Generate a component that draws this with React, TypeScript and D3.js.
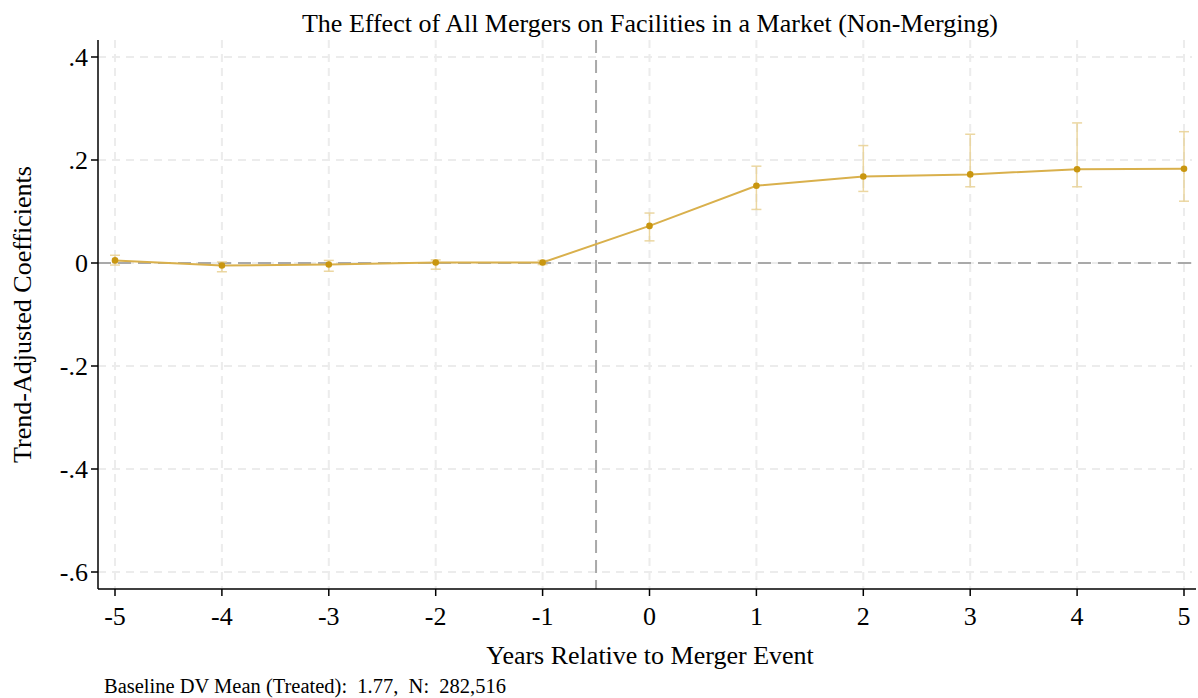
import React from 'react';
import * as d3 from 'd3';

const years = [-5, -4, -3, -2, -1, 0, 1, 2, 3, 4, 5];
const coefs = [0.005, -0.005, -0.003, 0.001, 0.001, 0.072, 0.150, 0.168, 0.172, 0.182, 0.183];
const ciLow = [-0.004, -0.017, -0.016, -0.012, -0.003, 0.043, 0.104, 0.139, 0.148, 0.148, 0.120];
const ciHigh = [0.015, 0.002, 0.005, 0.006, 0.005, 0.097, 0.188, 0.228, 0.250, 0.272, 0.255];
const yTicks = [0.4, 0.2, 0, -0.2, -0.4, -0.6];
const yTickLabels = ['.4', '.2', '0', '-.2', '-.4', '-.6'];

const W = 1198;
const H = 698;
const left = 98;
const right = 1196;
const top = 40;
const bottom = 589;
const font = '"Liberation Serif", "Times New Roman", serif';

export default function App() {
  const x = d3.scaleLinear().domain([-5, 5]).range([115, 1184]);
  const y = d3.scaleLinear().domain([-0.633, 0.433]).range([bottom, top]);

  const pts = years.map((yr, i) => ({ yr, b: coefs[i], lo: ciLow[i], hi: ciHigh[i] }));
  const line = d3
    .line<{ yr: number; b: number }>()
    .x(d => x(d.yr))
    .y(d => y(d.b));

  return (
    <svg width={W} height={H} style={{ position: 'absolute', left: 0, top: 0, background: '#fff' }}>
      {/* grid */}
      {years.map(t => (
        <line key={'gx' + t} x1={x(t)} x2={x(t)} y1={top} y2={bottom}
          stroke="#ececec" strokeWidth={2} strokeDasharray="8,6" />
      ))}
      {yTicks.map(t => (
        <line key={'gy' + t} x1={left} x2={right - 4} y1={y(t)} y2={y(t)}
          stroke="#ececec" strokeWidth={2} strokeDasharray="8,6" />
      ))}

      {/* reference lines */}
      <line x1={left} x2={right - 4} y1={y(0)} y2={y(0)} stroke="#a9a9a9" strokeWidth={2} strokeDasharray="13,7" />
      <line x1={x(-0.5)} x2={x(-0.5)} y1={top} y2={bottom} stroke="#a9a9a9" strokeWidth={2} strokeDasharray="13,7" />

      {/* error bars */}
      {pts.map(d => (
        <g key={'ci' + d.yr} stroke="#e9d192" strokeWidth={1.5} opacity={0.85}>
          <line x1={x(d.yr)} x2={x(d.yr)} y1={y(d.lo)} y2={y(d.hi)} />
          <line x1={x(d.yr) - 5} x2={x(d.yr) + 5} y1={y(d.lo)} y2={y(d.lo)} />
          <line x1={x(d.yr) - 5} x2={x(d.yr) + 5} y1={y(d.hi)} y2={y(d.hi)} />
        </g>
      ))}

      {/* coefficient line */}
      <path d={line(pts) || ''} fill="none" stroke="#d9b04c" strokeWidth={2} />
      {pts.map(d => (
        <circle key={'pt' + d.yr} cx={x(d.yr)} cy={y(d.b)} r={3.3} fill="#c9960f" />
      ))}

      {/* axes */}
      <line x1={left} x2={left} y1={top} y2={bottom} stroke="#000" strokeWidth={1.5} />
      <line x1={left} x2={right} y1={bottom} y2={bottom} stroke="#000" strokeWidth={1.5} />
      {yTicks.map((t, i) => (
        <g key={'yt' + t}>
          <line x1={left - 7} x2={left} y1={y(t)} y2={y(t)} stroke="#000" strokeWidth={1.5} />
          <text x={left - 10} y={y(t)} dy="0.35em" textAnchor="end" fontFamily={font} fontSize={26}>
            {yTickLabels[i]}
          </text>
        </g>
      ))}
      {years.map(t => (
        <g key={'xt' + t}>
          <line x1={x(t)} x2={x(t)} y1={bottom} y2={bottom + 7} stroke="#000" strokeWidth={1.5} />
          <text x={x(t)} y={bottom + 36} textAnchor="middle" fontFamily={font} fontSize={26}>
            {t}
          </text>
        </g>
      ))}

      {/* titles */}
      <text x={650} y={32} textAnchor="middle" fontFamily={font} fontSize={26}>
        The Effect of All Mergers on Facilities in a Market (Non-Merging)
      </text>
      <text x={650} y={664} textAnchor="middle" fontFamily={font} fontSize={26}>
        Years Relative to Merger Event
      </text>
      <text transform={`translate(31,${(top + bottom) / 2}) rotate(-90)`} textAnchor="middle" fontFamily={font} fontSize={26}>
        Trend-Adjusted Coefficients
      </text>
      <text x={104} y={693} fontFamily={font} fontSize={20.5} xmlSpace="preserve" style={{ whiteSpace: 'pre' }}>
        {'Baseline DV Mean (Treated):  1.77,  N:  282,516'}
      </text>
    </svg>
  );
}
